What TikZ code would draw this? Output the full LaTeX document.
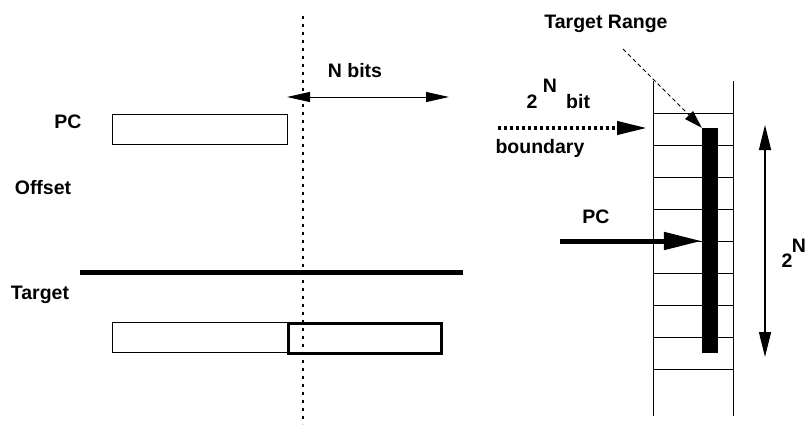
\documentclass[tikz,border=0pt]{standalone}
\usepackage{fontspec}
\setmainfont{Liberation Sans}
\usetikzlibrary{arrows.meta}

\tikzset{
  lbl/.style={font=\bfseries\fontsize{19.5}{22}\selectfont, inner sep=0pt, anchor=base},
  field/.style={draw, line width=0.9pt},
  slot/.style={line width=0.9pt}
}

\begin{document}
\begin{tikzpicture}[x=1pt,y=-1pt]
    \useasboundingbox (0,0) rectangle (807,426);
    % left part: PC, offset and target fields
    \coordinate (cutT) at (303,16);
    \coordinate (cutB) at (303,424);
    \draw[line width=2.5pt, dash pattern=on 3pt off 5pt] (cutT) -- (cutB);
    \node[lbl] (nbits) at (355,77) {N bits};
    \coordinate (nbL) at (287,97);
    \coordinate (nbR) at (449,97);
    \draw[line width=1pt, {Triangle[length=23pt,width=10pt]}-{Triangle[length=23pt,width=10pt]}] (nbL) -- (nbR);
    \node[lbl] (pcL) at (68,128) {PC};
    \node[field, minimum width=175pt, minimum height=30pt, inner sep=0pt] (pcbox) at (199.5,129) {};
    \node[lbl] (offset) at (43,194) {Offset};
    \coordinate (barL) at (80,272);
    \coordinate (barR) at (463,272);
    \draw[line width=5pt] (barL) -- (barR);
    \node[lbl] (target) at (40,299) {Target};
    \node[field, minimum width=175pt, minimum height=30pt, inner sep=0pt] (tgthi) at (199.5,337) {};
    \node[draw, line width=3pt, minimum width=153pt, minimum height=30pt, inner sep=0pt] (tgtlo) at (365,338) {};
    % right part: memory column
    \draw[slot] (653,81) -- (653,416);
    \draw[slot] (733,81) -- (733,416);
    \foreach \k in {0,...,8}
      \draw[slot] (653,113+32*\k) -- (733,113+32*\k);
    \node[fill, inner sep=0pt, minimum width=16pt, minimum height=225pt] (range) at (710,240.5) {};
    \node[lbl] (rangelbl) at (606,28) {Target Range};
    \coordinate (rangeS) at (623,49);
    \draw[line width=1pt, dash pattern=on 4pt off 3pt, -{Triangle[length=18pt,width=11pt]}] (rangeS) -- (range.north west);
    \node[lbl] (two) at (532,108) {2};
    \node[lbl] (twoN) at (550,92) {N};
    \node[lbl, anchor=base west] (bit) at (566,108) {bit};
    \node[lbl] (bound) at (540,153) {boundary};
    \coordinate (bdS) at (498,128);
    \coordinate (bdE) at (647,128);
    \draw[line width=4pt, dash pattern=on 3pt off 3pt, -{Triangle[length=30pt,width=13pt]}] (bdS) -- (bdE);
    \node[lbl] (pcR) at (596,223) {PC};
    \coordinate (pcS) at (560,241);
    \draw[line width=5pt, -{Triangle[length=38pt,width=17pt]}] (pcS) -- (range.west |- pcS);
    \coordinate (spanT) at (765,125);
    \coordinate (spanB) at (765,357);
    \draw[line width=1.3pt, {Triangle[length=25pt,width=12pt]}-{Triangle[length=25pt,width=12pt]}] (spanT) -- (spanB);
    \node[lbl] (two2) at (787,267) {2};
    \node[lbl] (two2N) at (799,252) {N};
\end{tikzpicture}
\end{document}
